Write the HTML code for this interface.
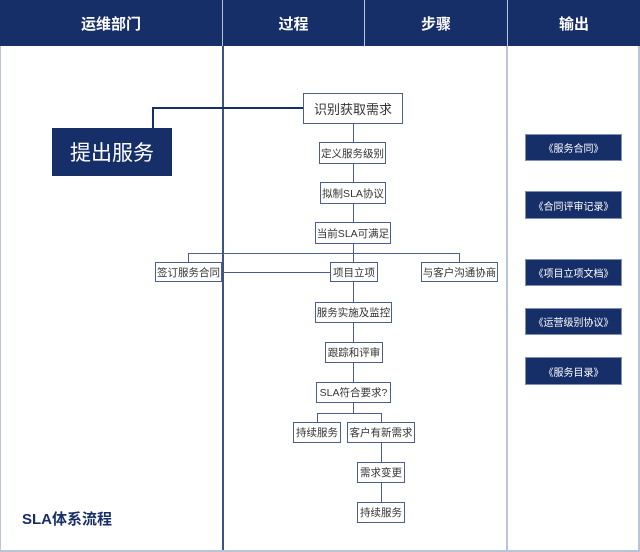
<!DOCTYPE html>
<html><head><meta charset="utf-8"><style>
body{margin:0;width:640px;height:552px;background:#fff;position:relative;overflow:hidden;font-family:"Liberation Sans","Noto Sans CJK SC",sans-serif}
.a{position:absolute;box-sizing:border-box}
.h{background:#172f68;color:#fff;font-weight:bold;font-size:15px;display:flex;align-items:center;justify-content:center;top:0;height:46px}
.b{border:1.5px solid #4a5f8e;background:#fff;font-size:10.5px;color:#333;display:flex;align-items:center;justify-content:center;white-space:nowrap}
.o{background:#172f68;color:#fff;font-size:10px;display:flex;align-items:center;justify-content:center;border:1px solid #8090b8}
.l{background:#4a5f8e}
.v{background:#b9c4d8}
</style></head><body>
<div class="a h" style="left:0;width:222px">运维部门</div>
<div class="a h" style="left:223px;width:141px">过程</div>
<div class="a h" style="left:365px;width:142px">步骤</div>
<div class="a h" style="left:508px;width:132px">输出</div>
<div class="a v" style="left:222px;top:0;width:1px;height:46px"></div>
<div class="a v" style="left:364px;top:0;width:1px;height:46px"></div>
<div class="a v" style="left:507px;top:0;width:1px;height:46px"></div>
<div class="a" style="left:222px;top:46px;width:1.5px;height:506px;background:#3d5386"></div>
<div class="a v" style="left:506px;top:46px;width:2px;height:506px"></div>
<div class="a v" style="left:0;top:46px;width:1px;height:506px"></div>
<div class="a v" style="left:638px;top:46px;width:2px;height:506px"></div>
<div class="a v" style="left:0;top:550px;width:640px;height:2px"></div>
<!-- connector to 提出服务 -->
<div class="a" style="left:152px;top:107px;width:151px;height:2px;background:#172f68"></div>
<div class="a" style="left:152px;top:107px;width:2px;height:22px;background:#172f68"></div>
<div class="a" style="left:52px;top:128px;width:120px;height:48px;background:#172f68;color:#fff;font-size:21px;display:flex;align-items:center;justify-content:center">提出服务</div>
<!-- main vertical -->
<div class="a l" style="left:353px;top:124px;width:1px;height:138px"></div>
<div class="a l" style="left:188px;top:253px;width:271px;height:1px"></div>
<div class="a l" style="left:188px;top:253px;width:1px;height:9px"></div>
<div class="a l" style="left:459px;top:253px;width:1px;height:9px"></div>
<div class="a l" style="left:222px;top:272px;width:108px;height:1px"></div>
<div class="a l" style="left:353px;top:282px;width:1px;height:131px"></div>
<div class="a l" style="left:317px;top:413px;width:65px;height:1px"></div>
<div class="a l" style="left:317px;top:413px;width:1px;height:9px"></div>
<div class="a l" style="left:381px;top:413px;width:1px;height:90px"></div>
<div class="a b" style="left:303px;top:93px;width:100px;height:31px;font-size:13px">识别获取需求</div>
<div class="a b" style="left:319px;top:142px;width:67px;height:22px">定义服务级别</div>
<div class="a b" style="left:320px;top:182px;width:66px;height:22px">拟制SLA协议</div>
<div class="a b" style="left:315px;top:222px;width:76px;height:22px">当前SLA可满足</div>
<div class="a b" style="left:155px;top:262px;width:67px;height:20px">签订服务合同</div>
<div class="a b" style="left:330px;top:262px;width:48px;height:20px">项目立项</div>
<div class="a b" style="left:421px;top:262px;width:77px;height:20px">与客户沟通协商</div>
<div class="a b" style="left:315px;top:302px;width:77px;height:21px">服务实施及监控</div>
<div class="a b" style="left:325px;top:342px;width:58px;height:21px">跟踪和评审</div>
<div class="a b" style="left:316px;top:382px;width:75px;height:21px">SLA符合要求?</div>
<div class="a b" style="left:293px;top:422px;width:48px;height:21px">持续服务</div>
<div class="a b" style="left:347px;top:422px;width:68px;height:21px">客户有新需求</div>
<div class="a b" style="left:357px;top:462px;width:48px;height:21px">需求变更</div>
<div class="a b" style="left:357px;top:502px;width:48px;height:21px">持续服务</div>
<div class="a o" style="left:525px;top:134px;width:97px;height:27px">《服务合同》</div>
<div class="a o" style="left:525px;top:191px;width:97px;height:28px">《合同评审记录》</div>
<div class="a o" style="left:525px;top:259px;width:97px;height:27px">《项目立项文档》</div>
<div class="a o" style="left:525px;top:308px;width:97px;height:27px">《运营级别协议》</div>
<div class="a o" style="left:525px;top:357px;width:97px;height:28px">《服务目录》</div>
<div class="a" style="left:22px;top:508px;font-size:15px;font-weight:bold;color:#172f68">SLA体系流程</div>
</body></html>
